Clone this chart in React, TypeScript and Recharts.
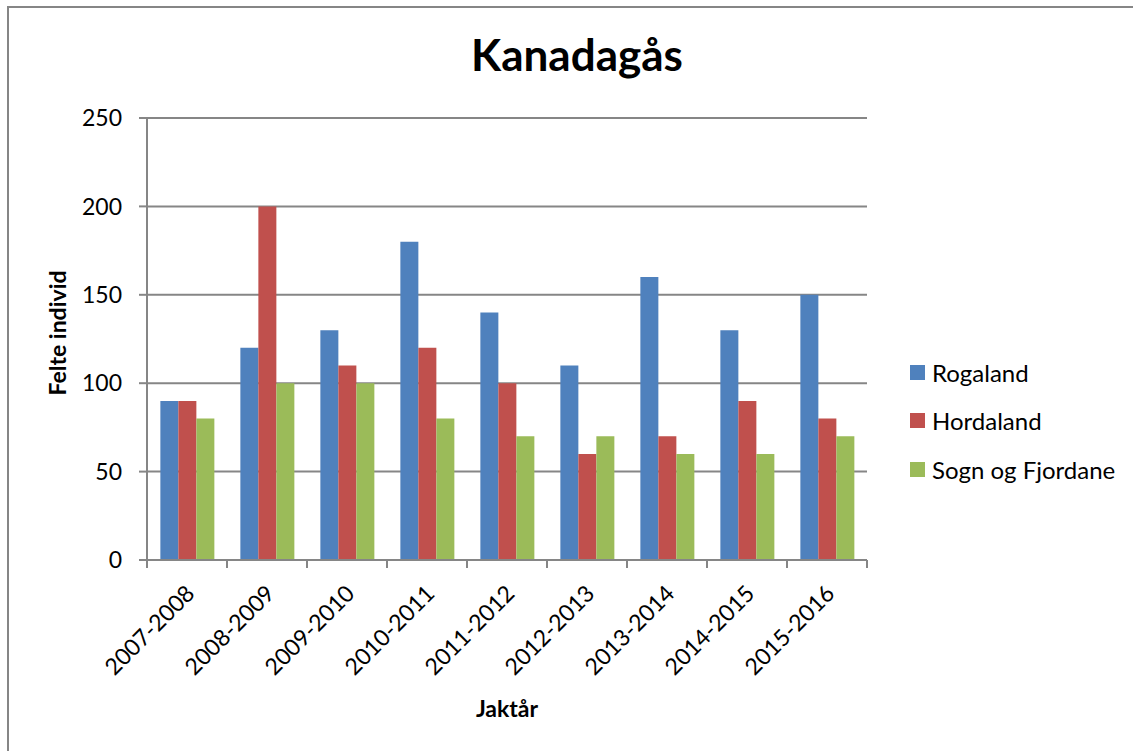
import React from "react";
import { BarChart, Bar, XAxis, YAxis, CartesianGrid } from "recharts";

const seasons = [
  "2007-2008", "2008-2009", "2009-2010", "2010-2011", "2011-2012",
  "2012-2013", "2013-2014", "2014-2015", "2015-2016",
];
const rogaland = [90, 120, 130, 180, 140, 110, 160, 130, 150];
const hordaland = [90, 200, 110, 120, 100, 60, 70, 90, 80];
const sognOgFjordane = [80, 100, 100, 80, 70, 70, 60, 60, 70];
const yTicks = [0, 50, 100, 150, 200, 250];

const SERIES = [
  { key: "Rogaland", color: "#4F81BD" },
  { key: "Hordaland", color: "#C0504D" },
  { key: "Sogn og Fjordane", color: "#9BBB59" },
];

const FONT = "Lato, 'Open Sans', sans-serif";
const GRID = "#868686";
const PLOT_LEFT = 147;
const PLOT_RIGHT = 867;
const PLOT_BOTTOM = 560;
const BAND = (PLOT_RIGHT - PLOT_LEFT) / seasons.length;

const data = seasons.map((s, i) => ({
  name: s,
  Rogaland: rogaland[i],
  Hordaland: hordaland[i],
  "Sogn og Fjordane": sognOgFjordane[i],
}));

// ticks sit on category boundaries, like Excel
const XTick = (props: any) => {
  const { x, payload, index } = props;
  const ax = x + 9;
  const ay = PLOT_BOTTOM + 35;
  return (
    <g>
      <line x1={x - BAND / 2} y1={PLOT_BOTTOM} x2={x - BAND / 2} y2={PLOT_BOTTOM + 8} stroke={GRID} strokeWidth={2} />
      {index === seasons.length - 1 && (
        <line x1={x + BAND / 2} y1={PLOT_BOTTOM} x2={x + BAND / 2} y2={PLOT_BOTTOM + 8} stroke={GRID} strokeWidth={2} />
      )}
      <text
        x={ax}
        y={ay}
        textAnchor="end"
        transform={`rotate(-45 ${ax} ${ay})`}
        fontSize={23}
        fontFamily={FONT}
        fill="#000"
      >
        {payload.value}
      </text>
    </g>
  );
};

const LegendBox = () => (
  <div style={{ fontFamily: FONT, fontSize: 24, color: "#000" }}>
    {SERIES.map((s) => (
      <div key={s.key} style={{ display: "flex", alignItems: "center", height: 48.5 }}>
        <span style={{ width: 15, height: 15, background: s.color, marginRight: 7, display: "inline-block" }} />
        <span>{s.key}</span>
      </div>
    ))}
  </div>
);

export default function App() {
  return (
    <div style={{ position: "fixed", inset: 0, overflow: "hidden", background: "#fff" }}>
      <div
        style={{
          position: "absolute", left: 7, top: 6, width: 1200, height: 800,
          borderTop: `2px solid ${GRID}`, borderLeft: `2px solid ${GRID}`,
        }}
      />
      <div
        style={{
          position: "absolute", left: 577, top: 28, transform: "translateX(-50%)",
          fontFamily: FONT, fontWeight: 700, fontSize: 44, whiteSpace: "nowrap",
        }}
      >
        Kanadagås
      </div>
      <div
        style={{
          position: "absolute", left: 57, top: 333, transform: "translate(-50%, -50%) rotate(-90deg)",
          fontFamily: FONT, fontWeight: 700, fontSize: 23, whiteSpace: "nowrap",
        }}
      >
        Felte individ
      </div>
      <div
        style={{
          position: "absolute", left: 507, top: 708, transform: "translate(-50%, -50%)",
          fontFamily: FONT, fontWeight: 700, fontSize: 23,
        }}
      >
        Jaktår
      </div>
      <div style={{ position: "absolute", left: 0, top: 0 }}>
        <BarChart
          width={1133}
          height={751}
          data={data}
          margin={{ top: 118, right: 1133 - PLOT_RIGHT, bottom: 71, left: 87 }}
          barCategoryGap="16.7%"
          barGap={0}
        >
          <CartesianGrid vertical={false} stroke={GRID} strokeWidth={2} />
          <XAxis
            dataKey="name"
            height={120}
            axisLine={{ stroke: GRID, strokeWidth: 2 }}
            tickLine={false}
            interval={0}
            tick={<XTick />}
          />
          <YAxis
            width={60}
            domain={[0, 250]}
            ticks={yTicks}
            interval={0}
            axisLine={{ stroke: GRID, strokeWidth: 2 }}
            tickLine={{ stroke: GRID, strokeWidth: 2 }}
            tickSize={8}
            tickMargin={17}
            tick={{ fontSize: 23, fontFamily: FONT, fill: "#000" }}
          />
          {SERIES.map((s) => (
            <Bar key={s.key} dataKey={s.key} fill={s.color} isAnimationActive={false} />
          ))}
        </BarChart>
      </div>
      <div style={{ position: "absolute", left: 910, top: 348 }}>
        <LegendBox />
      </div>
    </div>
  );
}
